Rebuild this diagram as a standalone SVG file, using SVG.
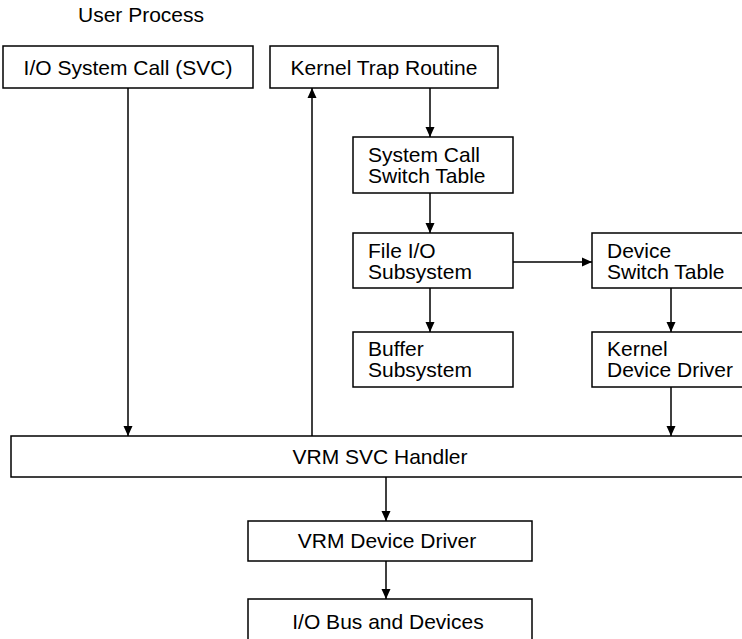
<svg xmlns="http://www.w3.org/2000/svg" width="742" height="639" viewBox="0 0 742 639">
<style>
rect.box{fill:#fff;stroke:#000;stroke-width:1.5}
text{font-family:"Liberation Sans",Arial,sans-serif;font-size:21px;fill:#000}
.c{text-anchor:middle}
.conn line{stroke:#000;stroke-width:1.5}
</style>
<defs>
<marker id="ah" viewBox="0 0 10 10" refX="10" refY="5" markerWidth="10" markerHeight="10" markerUnits="userSpaceOnUse" orient="auto">
<path d="M0,0.5 L10,5 L0,9.5 z" fill="#000"/>
</marker>
</defs>
<rect width="742" height="639" fill="#fff"/>
<text id="user-process" x="78" y="22">User Process</text>
<g id="io-syscall"><rect class="box" x="3" y="46" width="250" height="42"/><text class="c" x="128" y="75">I/O System Call (SVC)</text></g>
<g id="kernel-trap"><rect class="box" x="270" y="46" width="228" height="42"/><text class="c" x="384" y="75">Kernel Trap Routine</text></g>
<g id="syscall-switch"><rect class="box" x="353" y="137" width="160" height="56"/><text x="368" y="162">System Call</text><text x="368" y="183">Switch Table</text></g>
<g id="file-io"><rect class="box" x="353" y="233" width="160" height="55"/><text x="368" y="258">File I/O</text><text x="368" y="279">Subsystem</text></g>
<g id="buffer"><rect class="box" x="353" y="332" width="160" height="55"/><text x="368" y="356">Buffer</text><text x="368" y="377">Subsystem</text></g>
<g id="device-switch"><rect class="box" x="592" y="233" width="170" height="55"/><text x="607" y="258">Device</text><text x="607" y="279">Switch Table</text></g>
<g id="kernel-driver"><rect class="box" x="592" y="332" width="170" height="55"/><text x="607" y="356">Kernel</text><text x="607" y="377">Device Driver</text></g>
<g id="vrm-svc"><rect class="box" x="11" y="436" width="751" height="41"/><text class="c" x="380" y="464">VRM SVC Handler</text></g>
<g id="vrm-driver"><rect class="box" x="248" y="521" width="284" height="40"/><text class="c" x="387" y="548">VRM Device Driver</text></g>
<g id="io-bus"><rect class="box" x="248" y="599" width="284" height="50"/><text class="c" x="388" y="629">I/O Bus and Devices</text></g>
<g class="conn" id="connectors">
<line x1="128" y1="88" x2="128" y2="436" marker-end="url(#ah)"/>
<line x1="312" y1="436" x2="312" y2="88" marker-end="url(#ah)"/>
<line x1="430" y1="88" x2="430" y2="137" marker-end="url(#ah)"/>
<line x1="430" y1="193" x2="430" y2="233" marker-end="url(#ah)"/>
<line x1="430" y1="288" x2="430" y2="332" marker-end="url(#ah)"/>
<line x1="513" y1="262" x2="592" y2="262" marker-end="url(#ah)"/>
<line x1="671" y1="288" x2="671" y2="332" marker-end="url(#ah)"/>
<line x1="671" y1="387" x2="671" y2="436" marker-end="url(#ah)"/>
<line x1="386" y1="477" x2="386" y2="521" marker-end="url(#ah)"/>
<line x1="386" y1="561" x2="386" y2="599" marker-end="url(#ah)"/>
</g>
</svg>
